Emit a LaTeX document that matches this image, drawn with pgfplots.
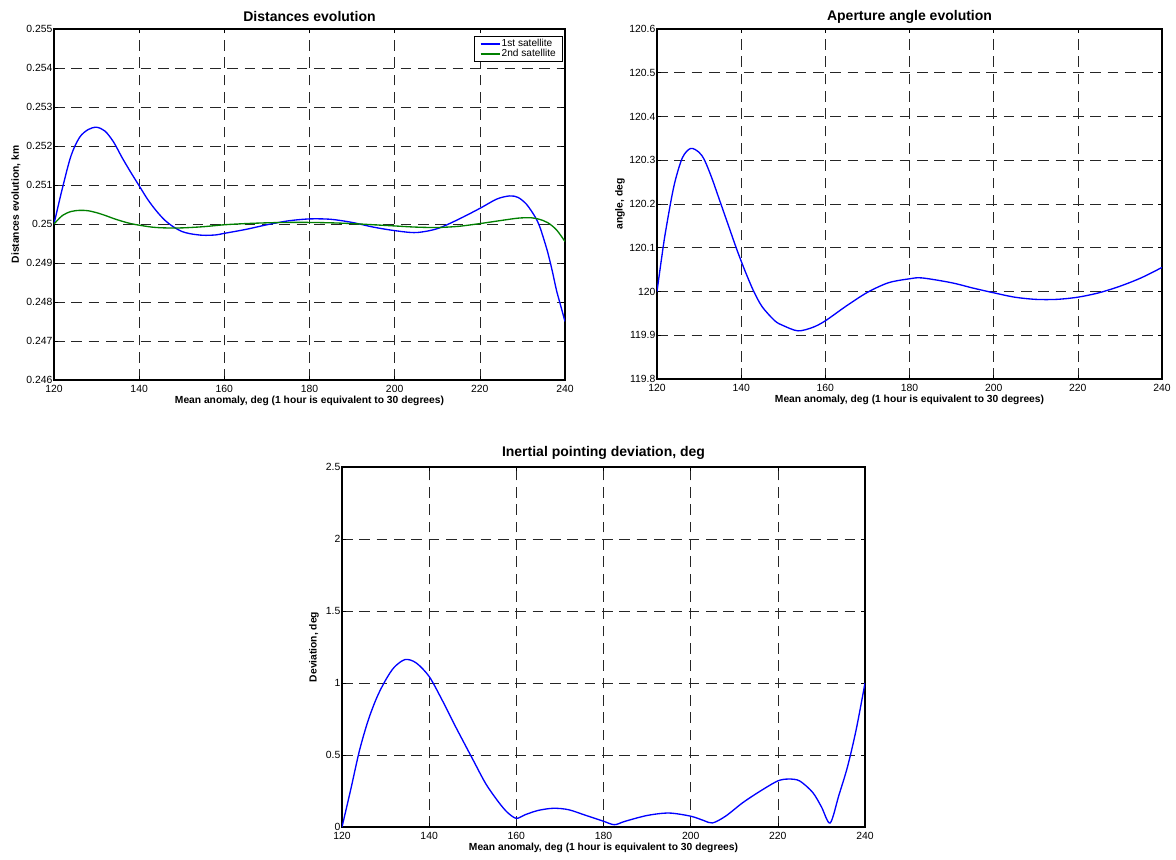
\documentclass[border=0pt]{standalone}
\usepackage{fontspec}
\setmainfont{Liberation Sans}
\usepackage{pgfplots}
\pgfplotsset{compat=1.18}
\definecolor{mgreen}{RGB}{0,128,0}
\definecolor{mblue}{RGB}{0,0,255}
\pgfplotsset{ml/.style={
  scale only axis,
  xmin=120, xmax=240, xtick={120,140,...,240},
  grid=major,
  major grid style={black!85, line width=0.5pt, dash pattern=on 8pt off 5pt},
  axis line style={black, line width=0.9pt},
  tick style={black, line width=0.5pt},
  tick align=inside, major tick length=3pt,
  ticklabel style={font=\fontsize{7.8}{8}\selectfont, inner sep=1pt},
  xticklabel style={yshift=-2.5pt},
  /pgf/number format/assume math mode=true,
  xlabel={Mean anomaly, deg (1 hour is equivalent to 30 degrees)},
  xlabel style={font=\bfseries\fontsize{7.7}{9}\selectfont, at={(axis description cs:0.5,0)}, anchor=center, yshift=-16pt},
  title style={font=\bfseries\fontsize{10.5}{12}\selectfont, at={(axis description cs:0.5,1)}, anchor=center, yshift=3pt},
  every axis plot/.append style={line width=1pt, no markers},
}}
\begin{document}
\begin{tikzpicture}
\path[use as bounding box] (0,0) rectangle (882pt,644.25pt);
% Top-left
\begin{axis}[ml, at={(40.5pt,359.25pt)}, anchor=south west,
  width=383.25pt, height=263.25pt,
  ymin=0.246, ymax=0.255,
  ytick={0.246,0.247,0.248,0.249,0.25,0.251,0.252,0.253,0.254,0.255},
  yticklabels={0.246,0.247,0.248,0.249,0.25,0.251,0.252,0.253,0.254,0.255},
  title={Distances evolution},
  ylabel={Distances evolution, km},
  ylabel style={font=\bfseries\fontsize{7.7}{9}\selectfont, at={(axis description cs:-0.0744,0.5)}, anchor=center},
  legend style={at={(0.996,0.98)}, anchor=north east, draw=black, line width=0.8pt,
    font=\fontsize{7.6}{7.6}\selectfont, inner xsep=4pt, inner ysep=1pt, row sep=-1.5pt, fill=white,
    nodes={inner sep=1pt}},
  legend cell align=left,
  legend image code/.code={\draw[#1, line width=1pt] (0cm,0cm) -- (0.5cm,0cm);},
]
\addplot[draw=mblue, smooth] coordinates {
(120,0.25000)(122,0.25093)(124,0.25175)(126,0.25222)(128,0.25242)(130,0.25248)
(132,0.25238)(134,0.25210)(136,0.25170)(138,0.25133)(140,0.25098)(142,0.25063)
(144,0.25034)(146,0.25010)(148,0.24993)(150,0.24981)(152,0.24975)(155,0.24971)
(158,0.24972)(160,0.24976)(165,0.24986)(170,0.24998)(175,0.25008)(180,0.25013)
(185,0.25012)(190,0.25004)(195,0.24992)(200,0.24983)(205,0.24978)(210,0.24988)
(215,0.25012)(220,0.25040)(224,0.25064)(227,0.25072)(229,0.25068)(231,0.25050)
(233,0.25018)(234,0.24995)(235,0.24962)(236,0.24925)(237,0.24880)(238,0.24830)
(239,0.24790)(240,0.24750)};
\addlegendentry{1st satellite}
\addplot[draw=mgreen, smooth] coordinates {
(120,0.25000)(122,0.25022)(124,0.25032)(126,0.25035)(128,0.25034)(130,0.25029)
(132,0.25022)(134,0.25014)(136,0.25007)(138,0.25001)(140,0.24997)(143,0.24992)
(146,0.24990)(150,0.24990)(155,0.24993)(160,0.24998)(165,0.25001)(170,0.25003)
(175,0.25004)(180,0.25004)(185,0.25003)(190,0.25001)(195,0.24998)(200,0.24995)
(205,0.24992)(210,0.24991)(215,0.24994)(220,0.25001)(225,0.25009)(229,0.25015)
(232,0.25016)(234,0.25012)(236,0.25003)(238,0.24985)(240,0.24955)};
\addlegendentry{2nd satellite}
\end{axis}
% Top-right
\begin{axis}[ml, at={(492.75pt,360pt)}, anchor=south west,
  width=378.75pt, height=262.5pt,
  ymin=119.8, ymax=120.6,
  ytick={119.8,119.9,120,120.1,120.2,120.3,120.4,120.5,120.6},
  yticklabels={119.8,119.9,120,120.1,120.2,120.3,120.4,120.5,120.6},
  title={Aperture angle evolution},
  ylabel={angle, deg},
  ylabel style={font=\bfseries\fontsize{7.7}{9}\selectfont, at={(axis description cs:-0.0733,0.5)}, anchor=center},
]
\addplot[draw=mblue, smooth] coordinates {
(120,120.000)(121,120.070)(122,120.135)(124,120.240)(126,120.305)(128,120.327)
(130,120.318)(131.3,120.300)(133,120.260)(135,120.205)(137,120.150)(139,120.095)
(141,120.045)(143,120.000)(145,119.965)(148,119.933)(150,119.922)(153.5,119.910)
(157,119.918)(160,119.933)(165,119.967)(170,119.998)(175,120.020)(180,120.029)
(183,120.031)(190,120.020)(195,120.008)(200,119.997)(205,119.987)(210,119.982)
(215,119.982)(220,119.987)(225,119.997)(230,120.012)(235,120.031)(240,120.055)};
\end{axis}
% Bottom
\begin{axis}[ml, at={(256.5pt,24pt)}, anchor=south west,
  width=392.25pt, height=270pt,
  ymin=0, ymax=2.5,
  ytick={0,0.5,1,1.5,2,2.5},
  yticklabels={0,0.5,1,1.5,2,2.5},
  title={Inertial pointing deviation, deg},
  title style={yshift=1.5pt},
  ylabel={Deviation, deg},
  ylabel style={font=\bfseries\fontsize{7.7}{9}\selectfont, at={(axis description cs:-0.0535,0.5)}, anchor=center},
]
\addplot[draw=mblue, smooth, tension=0.5] coordinates {
(120,0)(122,0.26)(124,0.53)(126,0.74)(128,0.90)(130,1.02)(132,1.11)(134.5,1.163)
(137,1.14)(140,1.045)(143,0.88)(146,0.70)(150,0.47)(153,0.30)(156,0.17)(158,0.10)
(160,0.06)(162,0.085)(165,0.115)(168.5,0.13)(172,0.12)(176,0.08)(180,0.04)
(182.5,0.016)(185,0.04)(190,0.08)(195,0.097)(200,0.075)(203,0.045)(205,0.028)
(208,0.075)(212,0.17)(216,0.25)(220,0.32)(222.5,0.333)(225,0.32)(228,0.24)
(230,0.14)(232,0.028)(234,0.22)(236,0.42)(238,0.68)(240,1.0)};
\end{axis}
\end{tikzpicture}
\end{document}
